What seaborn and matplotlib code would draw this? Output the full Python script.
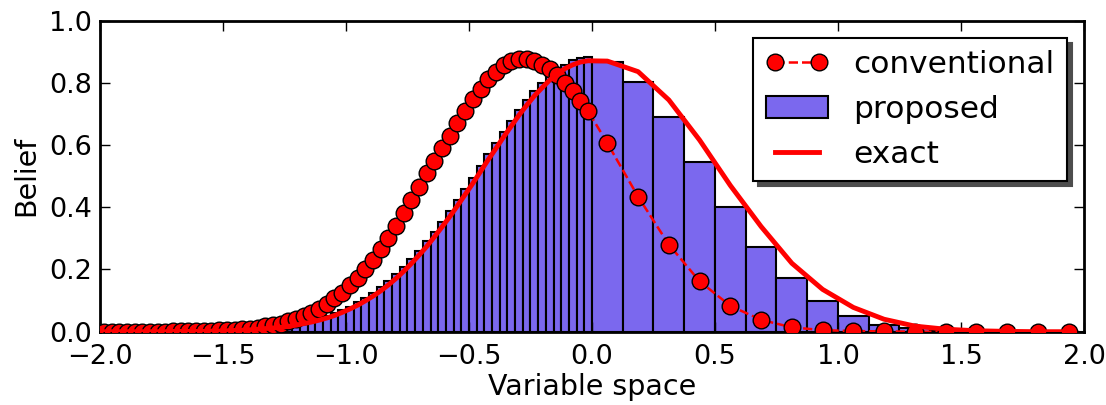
import numpy as np
import pandas as pd
import matplotlib
matplotlib.use("Agg")
import matplotlib.pyplot as plt
import seaborn as sns
from matplotlib.lines import Line2D
from matplotlib.patches import Patch

# grid: 64 fine cells on [-2, 0], 16 coarse cells on [0, 2]
fine_edges = np.linspace(-2.0, 0.0, 65)
coarse_edges = np.linspace(0.0, 2.0, 17)

proposed_fine = [0.000, 0.000, 0.000, 0.000, 0.000, 0.000, 0.000, 0.000, 0.001, 0.001,
                 0.001, 0.001, 0.001, 0.002, 0.002, 0.003, 0.004, 0.005, 0.006, 0.007,
                 0.009, 0.011, 0.014, 0.017, 0.021, 0.025, 0.030, 0.036, 0.042, 0.050,
                 0.059, 0.069, 0.081, 0.094, 0.109, 0.125, 0.143, 0.163, 0.185, 0.208,
                 0.234, 0.261, 0.291, 0.321, 0.354, 0.388, 0.423, 0.459, 0.495, 0.533,
                 0.570, 0.607, 0.643, 0.678, 0.712, 0.744, 0.773, 0.799, 0.823, 0.843,
                 0.859, 0.872, 0.880, 0.884]
proposed_coarse = [0.868, 0.803, 0.689, 0.546, 0.402, 0.273, 0.172, 0.100,
                   0.050, 0.022, 0.011, 0.005, 0.002, 0.001, 0.000, 0.000]

exact_fine = [0.000, 0.000, 0.000, 0.000, 0.000, 0.000, 0.000, 0.000, 0.000, 0.001,
              0.001, 0.001, 0.001, 0.001, 0.002, 0.002, 0.003, 0.004, 0.005, 0.006,
              0.008, 0.010, 0.012, 0.014, 0.017, 0.021, 0.026, 0.031, 0.037, 0.044,
              0.052, 0.062, 0.073, 0.085, 0.099, 0.114, 0.131, 0.150, 0.171, 0.194,
              0.219, 0.246, 0.274, 0.305, 0.337, 0.370, 0.405, 0.441, 0.477, 0.515,
              0.553, 0.589, 0.626, 0.661, 0.696, 0.728, 0.758, 0.784, 0.809, 0.829,
              0.846, 0.858, 0.867, 0.871]
exact_coarse = [0.870, 0.836, 0.745, 0.616, 0.470, 0.338, 0.220, 0.136,
                0.078, 0.040, 0.018, 0.008, 0.003, 0.001, 0.000, 0.000]

conventional_fine = [0.000, 0.000, 0.000, 0.000, 0.000, 0.000, 0.000, 0.000, 0.000, 0.001,
                     0.001, 0.001, 0.001, 0.002, 0.003, 0.004, 0.005, 0.006, 0.008, 0.010,
                     0.013, 0.017, 0.021, 0.026, 0.033, 0.041, 0.050, 0.061, 0.074, 0.089,
                     0.107, 0.126, 0.149, 0.174, 0.201, 0.232, 0.266, 0.301, 0.339, 0.380,
                     0.423, 0.466, 0.511, 0.550, 0.591, 0.630, 0.671, 0.710, 0.748, 0.781,
                     0.811, 0.836, 0.858, 0.871, 0.877, 0.876, 0.870, 0.859, 0.844, 0.824,
                     0.800, 0.773, 0.742, 0.709]
conventional_coarse = [0.606, 0.434, 0.280, 0.162, 0.083, 0.038, 0.014, 0.005,
                       0.002, 0.001, 0.000, 0.000, 0.000, 0.000, 0.000, 0.000]

x_ticks = [-2.0, -1.5, -1.0, -0.5, 0.0, 0.5, 1.0, 1.5, 2.0]
y_ticks = [0.0, 0.2, 0.4, 0.6, 0.8, 1.0]

edges = np.concatenate([fine_edges, coarse_edges[1:]])
centers = (edges[:-1] + edges[1:]) / 2
df = pd.DataFrame({'x': centers,
                   'conventional': conventional_fine + conventional_coarse,
                   'proposed': proposed_fine + proposed_coarse,
                   'exact': exact_fine + exact_coarse})

bar_color = '#7B68EE'

fig = plt.figure(figsize=(11.06, 4.05), dpi=100)
ax = fig.add_axes([0.0904, 0.181, 0.8897, 0.768])

sns.histplot(data=df, x='x', weights='proposed', bins=list(edges), stat='count',
             color=bar_color, alpha=1, edgecolor='black', linewidth=1.5, ax=ax)
sns.lineplot(data=df, x='x', y='conventional', color='red', linestyle='--',
             linewidth=1.8, marker='o', markersize=12, markeredgecolor='black',
             markeredgewidth=1, errorbar=None, ax=ax, zorder=3)
sns.lineplot(data=df, x='x', y='exact', color='red', linewidth=3.5,
             errorbar=None, ax=ax, zorder=4)

ax.set_xlim(-2, 2)
ax.set_ylim(0, 1)
ax.set_xticks(x_ticks)
ax.set_yticks(y_ticks)
ax.set_xticklabels(['{:.1f}'.format(v).replace('-', '\u2212') for v in x_ticks])
ax.set_yticklabels(['{:.1f}'.format(v) for v in y_ticks])
ax.set_xlabel('Variable space', fontsize=20.5, labelpad=2)
ax.set_ylabel('Belief', fontsize=20.5, labelpad=6)
ax.tick_params(direction='in', top=True, right=True, length=7, width=1,
               labelsize=19.5)
ax.tick_params(axis='x', pad=9)
ax.tick_params(axis='y', pad=6)
for s in ax.spines.values():
    s.set_linewidth(2)

handles = [Line2D([], [], color='red', ls='--', lw=1.8, marker='o', ms=12,
                  mec='black', mew=1),
           Patch(facecolor=bar_color, edgecolor='black', linewidth=1.5),
           Line2D([], [], color='red', lw=3.5)]
leg = ax.legend(handles, ['conventional', 'proposed', 'exact'], loc='upper right',
                fontsize=22.5, numpoints=2, fancybox=False, framealpha=1,
                edgecolor='black', borderaxespad=0.55,
                shadow={'ox': 3.5, 'oy': -3.5, 'facecolor': '0.3',
                        'edgecolor': '0.3', 'alpha': 1})
leg.get_frame().set_linewidth(1.5)

plt.savefig('out.png', dpi=100)
